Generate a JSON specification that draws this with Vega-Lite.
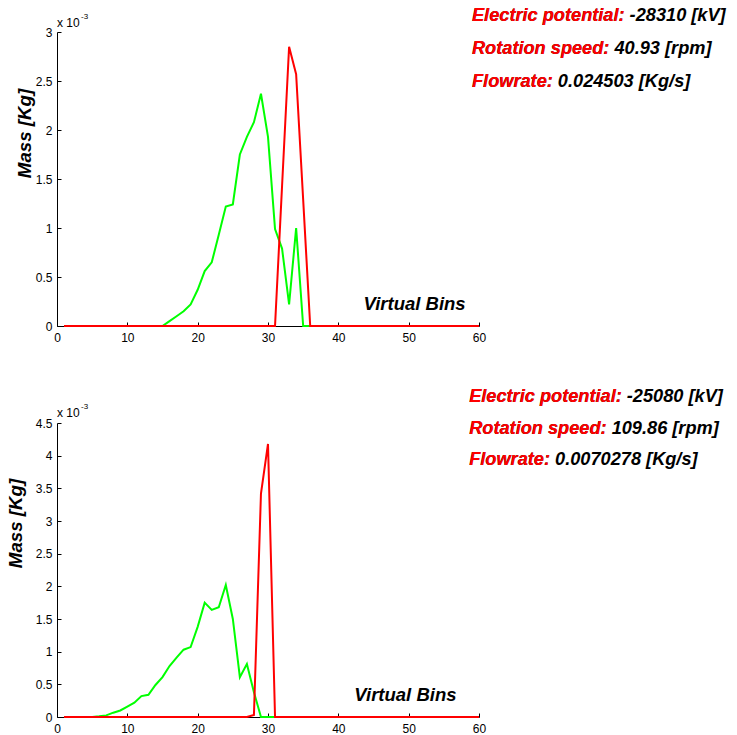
{
  "$schema": "https://vega.github.io/schema/vega-lite/v6.json",
  "padding": {"left": 6, "top": 5, "right": 5, "bottom": 5},
  "config": {
    "view": {"stroke": null},
    "font": "Liberation Sans",
    "axis": {
      "grid": false,
      "domainColor": "#000000",
      "domainWidth": 1,
      "tickColor": "#000000",
      "tickWidth": 1,
      "tickSize": -4,
      "labelColor": "#000000",
      "labelFont": "Liberation Sans",
      "labelFontSize": 12,
      "labelFlush": false,
      "labelOverlap": false,
      "labelSeparation": 0,
      "titleFont": "Liberation Sans",
      "titleFontSize": 18.7,
      "titleFontWeight": "bold",
      "titleFontStyle": "italic",
      "titleColor": "#000000"
    }
  },
  "datasets": {
    "mass": [
      {"panel":"top","series":"g","bin":1,"mass":0},{"panel":"top","series":"g","bin":2,"mass":0},{"panel":"top","series":"g","bin":3,"mass":0},{"panel":"top","series":"g","bin":4,"mass":0},{"panel":"top","series":"g","bin":5,"mass":0},{"panel":"top","series":"g","bin":6,"mass":0},{"panel":"top","series":"g","bin":7,"mass":0},{"panel":"top","series":"g","bin":8,"mass":0},{"panel":"top","series":"g","bin":9,"mass":0},{"panel":"top","series":"g","bin":10,"mass":0},
      {"panel":"top","series":"g","bin":11,"mass":0},{"panel":"top","series":"g","bin":12,"mass":0},{"panel":"top","series":"g","bin":13,"mass":0},{"panel":"top","series":"g","bin":14,"mass":0},{"panel":"top","series":"g","bin":15,"mass":0},{"panel":"top","series":"g","bin":16,"mass":0.05},{"panel":"top","series":"g","bin":17,"mass":0.10},{"panel":"top","series":"g","bin":18,"mass":0.15},{"panel":"top","series":"g","bin":19,"mass":0.22},{"panel":"top","series":"g","bin":20,"mass":0.37},
      {"panel":"top","series":"g","bin":21,"mass":0.56},{"panel":"top","series":"g","bin":22,"mass":0.65},{"panel":"top","series":"g","bin":23,"mass":0.93},{"panel":"top","series":"g","bin":24,"mass":1.22},{"panel":"top","series":"g","bin":25,"mass":1.24},{"panel":"top","series":"g","bin":26,"mass":1.75},{"panel":"top","series":"g","bin":27,"mass":1.93},{"panel":"top","series":"g","bin":28,"mass":2.08},{"panel":"top","series":"g","bin":29,"mass":2.37},{"panel":"top","series":"g","bin":30,"mass":1.93},
      {"panel":"top","series":"g","bin":31,"mass":0.99},{"panel":"top","series":"g","bin":32,"mass":0.79},{"panel":"top","series":"g","bin":33,"mass":0.22},{"panel":"top","series":"g","bin":34,"mass":1.00},{"panel":"top","series":"g","bin":35,"mass":0},{"panel":"top","series":"g","bin":36,"mass":0},{"panel":"top","series":"g","bin":37,"mass":0},{"panel":"top","series":"g","bin":38,"mass":0},{"panel":"top","series":"g","bin":39,"mass":0},{"panel":"top","series":"g","bin":40,"mass":0},
      {"panel":"top","series":"g","bin":41,"mass":0},{"panel":"top","series":"g","bin":42,"mass":0},{"panel":"top","series":"g","bin":43,"mass":0},{"panel":"top","series":"g","bin":44,"mass":0},{"panel":"top","series":"g","bin":45,"mass":0},{"panel":"top","series":"g","bin":46,"mass":0},{"panel":"top","series":"g","bin":47,"mass":0},{"panel":"top","series":"g","bin":48,"mass":0},{"panel":"top","series":"g","bin":49,"mass":0},{"panel":"top","series":"g","bin":50,"mass":0},
      {"panel":"top","series":"g","bin":51,"mass":0},{"panel":"top","series":"g","bin":52,"mass":0},{"panel":"top","series":"g","bin":53,"mass":0},{"panel":"top","series":"g","bin":54,"mass":0},{"panel":"top","series":"g","bin":55,"mass":0},{"panel":"top","series":"g","bin":56,"mass":0},{"panel":"top","series":"g","bin":57,"mass":0},{"panel":"top","series":"g","bin":58,"mass":0},{"panel":"top","series":"g","bin":59,"mass":0},{"panel":"top","series":"g","bin":60,"mass":0},
      {"panel":"top","series":"r","bin":1,"mass":0},{"panel":"top","series":"r","bin":2,"mass":0},{"panel":"top","series":"r","bin":3,"mass":0},{"panel":"top","series":"r","bin":4,"mass":0},{"panel":"top","series":"r","bin":5,"mass":0},{"panel":"top","series":"r","bin":6,"mass":0},{"panel":"top","series":"r","bin":7,"mass":0},{"panel":"top","series":"r","bin":8,"mass":0},{"panel":"top","series":"r","bin":9,"mass":0},{"panel":"top","series":"r","bin":10,"mass":0},
      {"panel":"top","series":"r","bin":11,"mass":0},{"panel":"top","series":"r","bin":12,"mass":0},{"panel":"top","series":"r","bin":13,"mass":0},{"panel":"top","series":"r","bin":14,"mass":0},{"panel":"top","series":"r","bin":15,"mass":0},{"panel":"top","series":"r","bin":16,"mass":0},{"panel":"top","series":"r","bin":17,"mass":0},{"panel":"top","series":"r","bin":18,"mass":0},{"panel":"top","series":"r","bin":19,"mass":0},{"panel":"top","series":"r","bin":20,"mass":0},
      {"panel":"top","series":"r","bin":21,"mass":0},{"panel":"top","series":"r","bin":22,"mass":0},{"panel":"top","series":"r","bin":23,"mass":0},{"panel":"top","series":"r","bin":24,"mass":0},{"panel":"top","series":"r","bin":25,"mass":0},{"panel":"top","series":"r","bin":26,"mass":0},{"panel":"top","series":"r","bin":27,"mass":0},{"panel":"top","series":"r","bin":28,"mass":0},{"panel":"top","series":"r","bin":29,"mass":0},{"panel":"top","series":"r","bin":30,"mass":0},
      {"panel":"top","series":"r","bin":31,"mass":0},{"panel":"top","series":"r","bin":32,"mass":1.43},{"panel":"top","series":"r","bin":33,"mass":2.85},{"panel":"top","series":"r","bin":34,"mass":2.57},{"panel":"top","series":"r","bin":35,"mass":1.29},{"panel":"top","series":"r","bin":36,"mass":0},{"panel":"top","series":"r","bin":37,"mass":0},{"panel":"top","series":"r","bin":38,"mass":0},{"panel":"top","series":"r","bin":39,"mass":0},{"panel":"top","series":"r","bin":40,"mass":0},
      {"panel":"top","series":"r","bin":41,"mass":0},{"panel":"top","series":"r","bin":42,"mass":0},{"panel":"top","series":"r","bin":43,"mass":0},{"panel":"top","series":"r","bin":44,"mass":0},{"panel":"top","series":"r","bin":45,"mass":0},{"panel":"top","series":"r","bin":46,"mass":0},{"panel":"top","series":"r","bin":47,"mass":0},{"panel":"top","series":"r","bin":48,"mass":0},{"panel":"top","series":"r","bin":49,"mass":0},{"panel":"top","series":"r","bin":50,"mass":0},
      {"panel":"top","series":"r","bin":51,"mass":0},{"panel":"top","series":"r","bin":52,"mass":0},{"panel":"top","series":"r","bin":53,"mass":0},{"panel":"top","series":"r","bin":54,"mass":0},{"panel":"top","series":"r","bin":55,"mass":0},{"panel":"top","series":"r","bin":56,"mass":0},{"panel":"top","series":"r","bin":57,"mass":0},{"panel":"top","series":"r","bin":58,"mass":0},{"panel":"top","series":"r","bin":59,"mass":0},{"panel":"top","series":"r","bin":60,"mass":0},
      {"panel":"bottom","series":"g","bin":1,"mass":0},{"panel":"bottom","series":"g","bin":2,"mass":0},{"panel":"bottom","series":"g","bin":3,"mass":0},{"panel":"bottom","series":"g","bin":4,"mass":0},{"panel":"bottom","series":"g","bin":5,"mass":0},{"panel":"bottom","series":"g","bin":6,"mass":0.01},{"panel":"bottom","series":"g","bin":7,"mass":0.025},{"panel":"bottom","series":"g","bin":8,"mass":0.066},{"panel":"bottom","series":"g","bin":9,"mass":0.10},{"panel":"bottom","series":"g","bin":10,"mass":0.16},
      {"panel":"bottom","series":"g","bin":11,"mass":0.22},{"panel":"bottom","series":"g","bin":12,"mass":0.32},{"panel":"bottom","series":"g","bin":13,"mass":0.34},{"panel":"bottom","series":"g","bin":14,"mass":0.49},{"panel":"bottom","series":"g","bin":15,"mass":0.61},{"panel":"bottom","series":"g","bin":16,"mass":0.78},{"panel":"bottom","series":"g","bin":17,"mass":0.91},{"panel":"bottom","series":"g","bin":18,"mass":1.03},{"panel":"bottom","series":"g","bin":19,"mass":1.07},{"panel":"bottom","series":"g","bin":20,"mass":1.38},
      {"panel":"bottom","series":"g","bin":21,"mass":1.75},{"panel":"bottom","series":"g","bin":22,"mass":1.64},{"panel":"bottom","series":"g","bin":23,"mass":1.68},{"panel":"bottom","series":"g","bin":24,"mass":2.02},{"panel":"bottom","series":"g","bin":25,"mass":1.50},{"panel":"bottom","series":"g","bin":26,"mass":0.61},{"panel":"bottom","series":"g","bin":27,"mass":0.81},{"panel":"bottom","series":"g","bin":28,"mass":0.38},{"panel":"bottom","series":"g","bin":29,"mass":0},{"panel":"bottom","series":"g","bin":30,"mass":0},
      {"panel":"bottom","series":"g","bin":31,"mass":0},{"panel":"bottom","series":"g","bin":32,"mass":0},{"panel":"bottom","series":"g","bin":33,"mass":0},{"panel":"bottom","series":"g","bin":34,"mass":0},{"panel":"bottom","series":"g","bin":35,"mass":0},{"panel":"bottom","series":"g","bin":36,"mass":0},{"panel":"bottom","series":"g","bin":37,"mass":0},{"panel":"bottom","series":"g","bin":38,"mass":0},{"panel":"bottom","series":"g","bin":39,"mass":0},{"panel":"bottom","series":"g","bin":40,"mass":0},
      {"panel":"bottom","series":"g","bin":41,"mass":0},{"panel":"bottom","series":"g","bin":42,"mass":0},{"panel":"bottom","series":"g","bin":43,"mass":0},{"panel":"bottom","series":"g","bin":44,"mass":0},{"panel":"bottom","series":"g","bin":45,"mass":0},{"panel":"bottom","series":"g","bin":46,"mass":0},{"panel":"bottom","series":"g","bin":47,"mass":0},{"panel":"bottom","series":"g","bin":48,"mass":0},{"panel":"bottom","series":"g","bin":49,"mass":0},{"panel":"bottom","series":"g","bin":50,"mass":0},
      {"panel":"bottom","series":"g","bin":51,"mass":0},{"panel":"bottom","series":"g","bin":52,"mass":0},{"panel":"bottom","series":"g","bin":53,"mass":0},{"panel":"bottom","series":"g","bin":54,"mass":0},{"panel":"bottom","series":"g","bin":55,"mass":0},{"panel":"bottom","series":"g","bin":56,"mass":0},{"panel":"bottom","series":"g","bin":57,"mass":0},{"panel":"bottom","series":"g","bin":58,"mass":0},{"panel":"bottom","series":"g","bin":59,"mass":0},{"panel":"bottom","series":"g","bin":60,"mass":0},
      {"panel":"bottom","series":"r","bin":1,"mass":0},{"panel":"bottom","series":"r","bin":2,"mass":0},{"panel":"bottom","series":"r","bin":3,"mass":0},{"panel":"bottom","series":"r","bin":4,"mass":0},{"panel":"bottom","series":"r","bin":5,"mass":0},{"panel":"bottom","series":"r","bin":6,"mass":0},{"panel":"bottom","series":"r","bin":7,"mass":0},{"panel":"bottom","series":"r","bin":8,"mass":0},{"panel":"bottom","series":"r","bin":9,"mass":0},{"panel":"bottom","series":"r","bin":10,"mass":0},
      {"panel":"bottom","series":"r","bin":11,"mass":0},{"panel":"bottom","series":"r","bin":12,"mass":0},{"panel":"bottom","series":"r","bin":13,"mass":0},{"panel":"bottom","series":"r","bin":14,"mass":0},{"panel":"bottom","series":"r","bin":15,"mass":0},{"panel":"bottom","series":"r","bin":16,"mass":0},{"panel":"bottom","series":"r","bin":17,"mass":0},{"panel":"bottom","series":"r","bin":18,"mass":0},{"panel":"bottom","series":"r","bin":19,"mass":0},{"panel":"bottom","series":"r","bin":20,"mass":0},
      {"panel":"bottom","series":"r","bin":21,"mass":0},{"panel":"bottom","series":"r","bin":22,"mass":0},{"panel":"bottom","series":"r","bin":23,"mass":0},{"panel":"bottom","series":"r","bin":24,"mass":0},{"panel":"bottom","series":"r","bin":25,"mass":0},{"panel":"bottom","series":"r","bin":26,"mass":0},{"panel":"bottom","series":"r","bin":27,"mass":0},{"panel":"bottom","series":"r","bin":28,"mass":0.03},{"panel":"bottom","series":"r","bin":29,"mass":3.42},{"panel":"bottom","series":"r","bin":30,"mass":4.18},
      {"panel":"bottom","series":"r","bin":31,"mass":0},{"panel":"bottom","series":"r","bin":32,"mass":0},{"panel":"bottom","series":"r","bin":33,"mass":0},{"panel":"bottom","series":"r","bin":34,"mass":0},{"panel":"bottom","series":"r","bin":35,"mass":0},{"panel":"bottom","series":"r","bin":36,"mass":0},{"panel":"bottom","series":"r","bin":37,"mass":0},{"panel":"bottom","series":"r","bin":38,"mass":0},{"panel":"bottom","series":"r","bin":39,"mass":0},{"panel":"bottom","series":"r","bin":40,"mass":0},
      {"panel":"bottom","series":"r","bin":41,"mass":0},{"panel":"bottom","series":"r","bin":42,"mass":0},{"panel":"bottom","series":"r","bin":43,"mass":0},{"panel":"bottom","series":"r","bin":44,"mass":0},{"panel":"bottom","series":"r","bin":45,"mass":0},{"panel":"bottom","series":"r","bin":46,"mass":0},{"panel":"bottom","series":"r","bin":47,"mass":0},{"panel":"bottom","series":"r","bin":48,"mass":0},{"panel":"bottom","series":"r","bin":49,"mass":0},{"panel":"bottom","series":"r","bin":50,"mass":0},
      {"panel":"bottom","series":"r","bin":51,"mass":0},{"panel":"bottom","series":"r","bin":52,"mass":0},{"panel":"bottom","series":"r","bin":53,"mass":0},{"panel":"bottom","series":"r","bin":54,"mass":0},{"panel":"bottom","series":"r","bin":55,"mass":0},{"panel":"bottom","series":"r","bin":56,"mass":0},{"panel":"bottom","series":"r","bin":57,"mass":0},{"panel":"bottom","series":"r","bin":58,"mass":0},{"panel":"bottom","series":"r","bin":59,"mass":0},{"panel":"bottom","series":"r","bin":60,"mass":0}
    ],
    "info": [
      {"panel":"top","labels":["Electric potential:","Rotation speed:","Flowrate:"],"lines":["Electric potential: -28310 [kV]","Rotation speed: 40.93 [rpm]","Flowrate: 0.024503 [Kg/s]"]},
      {"panel":"bottom","labels":["Electric potential:","Rotation speed:","Flowrate:"],"lines":["Electric potential: -25080 [kV]","Rotation speed: 109.86 [rpm]","Flowrate: 0.0070278 [Kg/s]"]}
    ],
    "notes": [
      {"kind":"xlabel","text":"Virtual Bins"},
      {"kind":"base","text":"x 10"},
      {"kind":"exp","text":"-3"}
    ]
  },
  "bounds": "flush",
  "spacing": 97,
  "vconcat": [
    {
      "width": 422,
      "height": 294,
      "layer": [
        {
          "data": {"name": "mass"},
          "transform": [{"filter": "datum.panel === 'top'"}],
          "mark": {"type": "line", "strokeWidth": 2},
          "encoding": {
            "x": {"field": "bin", "type": "quantitative", "scale": {"domain": [0, 60], "nice": false},
                  "axis": {"values": [0,10,20,30,40,50,60], "tickCount": 7, "title": null, "labelPadding": 10, "labelOverlap": false}},
            "y": {"field": "mass", "type": "quantitative", "scale": {"domain": [0, 3], "nice": false},
                  "axis": {"values": [0,0.5,1,1.5,2,2.5,3], "tickCount": 7, "labelExpr": "format(datum.value, '~g')", "title": "Mass [Kg]", "titlePadding": 1, "titleY": 101, "labelPadding": 9, "labelOverlap": false}},
            "color": {"field": "series", "type": "nominal", "scale": {"domain": ["g","r"], "range": ["#00ff00","#ff0000"]}, "legend": null}
          }
        },
        {
          "data": {"name": "notes"},
          "transform": [{"filter": "datum.kind === 'base'"}],
          "mark": {"type": "text", "align": "left", "baseline": "alphabetic", "dy": -5, "fontSize": 12, "color": "#000000"},
          "encoding": {"x": {"datum": 0}, "y": {"datum": 3}, "text": {"field": "text", "type": "nominal"}}
        },
        {
          "data": {"name": "notes"},
          "transform": [{"filter": "datum.kind === 'exp'"}],
          "mark": {"type": "text", "align": "left", "baseline": "alphabetic", "dx": 24, "dy": -13, "fontSize": 8, "color": "#000000"},
          "encoding": {"x": {"datum": 0}, "y": {"datum": 3}, "text": {"field": "text", "type": "nominal"}}
        },
        {
          "data": {"name": "notes"},
          "transform": [{"filter": "datum.kind === 'xlabel'"}],
          "mark": {"type": "text", "align": "right", "baseline": "alphabetic", "fontSize": 18.5, "fontWeight": "bold", "fontStyle": "italic", "color": "#000000"},
          "encoding": {"x": {"datum": 58.1}, "y": {"datum": 0.163}, "text": {"field": "text", "type": "nominal"}}
        },
        {
          "data": {"name": "info"},
          "transform": [{"filter": "datum.panel === 'top'"}],
          "mark": {"type": "text", "align": "left", "baseline": "alphabetic", "fontSize": 18.2, "fontWeight": "bold", "fontStyle": "italic", "lineHeight": 33, "color": "#000000"},
          "encoding": {"x": {"datum": 59.0}, "y": {"datum": 3.115}, "text": {"field": "lines", "type": "nominal"}}
        },
        {
          "data": {"name": "info"},
          "transform": [{"filter": "datum.panel === 'top'"}],
          "mark": {"type": "text", "align": "left", "baseline": "alphabetic", "fontSize": 18.2, "fontWeight": "bold", "fontStyle": "italic", "lineHeight": 33, "color": "#ff0000"},
          "encoding": {"x": {"datum": 59.0}, "y": {"datum": 3.115}, "text": {"field": "labels", "type": "nominal"}}
        }
      ]
    },
    {
      "width": 422,
      "height": 294,
      "layer": [
        {
          "data": {"name": "mass"},
          "transform": [{"filter": "datum.panel === 'bottom'"}],
          "mark": {"type": "line", "strokeWidth": 2},
          "encoding": {
            "x": {"field": "bin", "type": "quantitative", "scale": {"domain": [0, 60], "nice": false},
                  "axis": {"values": [0,10,20,30,40,50,60], "tickCount": 7, "title": null, "labelPadding": 10, "labelOverlap": false}},
            "y": {"field": "mass", "type": "quantitative", "scale": {"domain": [0, 4.5], "nice": false},
                  "axis": {"values": [0,0.5,1,1.5,2,2.5,3,3.5,4,4.5], "tickCount": 10, "labelExpr": "format(datum.value, '~g')", "title": "Mass [Kg]", "titlePadding": 10, "titleY": 100, "labelPadding": 9, "labelOverlap": false}},
            "color": {"field": "series", "type": "nominal", "scale": {"domain": ["g","r"], "range": ["#00ff00","#ff0000"]}, "legend": null}
          }
        },
        {
          "data": {"name": "notes"},
          "transform": [{"filter": "datum.kind === 'base'"}],
          "mark": {"type": "text", "align": "left", "baseline": "alphabetic", "dy": -6, "fontSize": 12, "color": "#000000"},
          "encoding": {"x": {"datum": 0}, "y": {"datum": 4.5}, "text": {"field": "text", "type": "nominal"}}
        },
        {
          "data": {"name": "notes"},
          "transform": [{"filter": "datum.kind === 'exp'"}],
          "mark": {"type": "text", "align": "left", "baseline": "alphabetic", "dx": 24, "dy": -14, "fontSize": 8, "color": "#000000"},
          "encoding": {"x": {"datum": 0}, "y": {"datum": 4.5}, "text": {"field": "text", "type": "nominal"}}
        },
        {
          "data": {"name": "notes"},
          "transform": [{"filter": "datum.kind === 'xlabel'"}],
          "mark": {"type": "text", "align": "right", "baseline": "alphabetic", "fontSize": 18.5, "fontWeight": "bold", "fontStyle": "italic", "color": "#000000"},
          "encoding": {"x": {"datum": 56.8}, "y": {"datum": 0.245}, "text": {"field": "text", "type": "nominal"}}
        },
        {
          "data": {"name": "info"},
          "transform": [{"filter": "datum.panel === 'bottom'"}],
          "mark": {"type": "text", "align": "left", "baseline": "alphabetic", "fontSize": 18.2, "fontWeight": "bold", "fontStyle": "italic", "lineHeight": 31.5, "color": "#000000"},
          "encoding": {"x": {"datum": 58.6}, "y": {"datum": 4.817}, "text": {"field": "lines", "type": "nominal"}}
        },
        {
          "data": {"name": "info"},
          "transform": [{"filter": "datum.panel === 'bottom'"}],
          "mark": {"type": "text", "align": "left", "baseline": "alphabetic", "fontSize": 18.2, "fontWeight": "bold", "fontStyle": "italic", "lineHeight": 31.5, "color": "#ff0000"},
          "encoding": {"x": {"datum": 58.6}, "y": {"datum": 4.817}, "text": {"field": "labels", "type": "nominal"}}
        }
      ]
    }
  ]
}
